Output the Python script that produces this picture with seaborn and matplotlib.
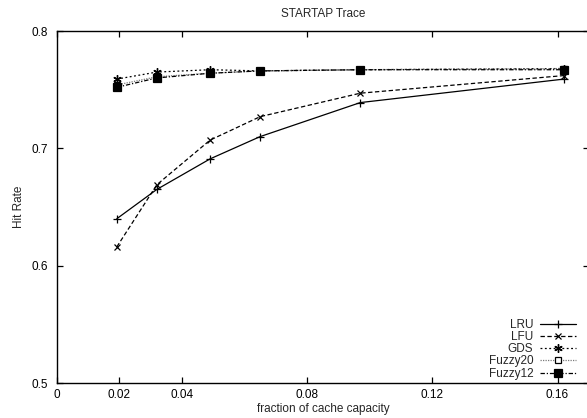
import matplotlib
matplotlib.use("Agg")
import matplotlib.pyplot as plt
import seaborn as sns
import pandas as pd

# Cache-size fractions and hit rates per replacement policy
capacity = [0.0192, 0.032, 0.049, 0.065, 0.097, 0.162]
lru = [0.640, 0.665, 0.691, 0.710, 0.739, 0.759]
lfu = [0.616, 0.669, 0.707, 0.727, 0.747, 0.762]
gds = [0.759, 0.765, 0.767, 0.766, 0.767, 0.768]
fuzzy20 = [0.754, 0.761, 0.764, 0.766, 0.767, 0.768]
fuzzy12 = [0.752, 0.760, 0.764, 0.766, 0.767, 0.767]

x_ticks = [0, 0.02, 0.04, 0.08, 0.12, 0.16]
x_tick_labels = ["0", "0.02", "0.04", "0.08", "0.12", "0.16"]
y_ticks = [0.5, 0.6, 0.7, 0.8]
y_tick_labels = ["0.5", "0.6", "0.7", "0.8"]

series = {
    "LRU": lru,
    "LFU": lfu,
    "GDS": gds,
    "Fuzzy20": fuzzy20,
    "Fuzzy12": fuzzy12,
}

styles = {
    "LRU": dict(color="black", linestyle="-", marker="+", markersize=6, mew=0.9),
    "LFU": dict(color="black", linestyle=(0, (3.5, 2)), marker="x", markersize=5, mew=0.9),
    "GDS": dict(color="black", linestyle=(0, (1.5, 2)), marker=(6, 2, 0), markersize=6, mew=1.0),
    "Fuzzy20": dict(color="#7a7a7a", linestyle=(0, (1, 1)), marker="s", markersize=5,
                    mfc="white", mec="black", mew=0.9),
    "Fuzzy12": dict(color="black", linestyle=(0, (3.5, 1.5, 1, 1.5)), marker="s",
                    markersize=6, mfc="black", mec="black"),
}

sns.set_theme(style="ticks")
plt.rcParams["font.family"] = ["Liberation Sans", "DejaVu Sans"]
plt.rcParams["font.size"] = 8.5

fig = plt.figure(figsize=(5.87, 4.18), dpi=100)
ax = fig.add_axes([56.7 / 587, 35 / 418, (589 - 56.7) / 587, (383 - 31) / 418])

for name, values in series.items():
    df = pd.DataFrame({"capacity": capacity, "hit": values})
    st = styles[name]
    sns.lineplot(data=df, x="capacity", y="hit", ax=ax, label=name,
                 color=st["color"], linewidth=0.9, estimator=None, sort=False)
    line = ax.lines[-1]
    line.set_linestyle(st["linestyle"])
    line.set_marker(st["marker"])
    line.set_markersize(st["markersize"])
    line.set_markeredgewidth(st.get("mew", 0.9))
    line.set_markerfacecolor(st.get("mfc", "black"))
    line.set_markeredgecolor(st.get("mec", "black"))

ax.set_xlim(0, (589 - 56.7) / 3130)
ax.set_ylim(0.5, 0.8)
ax.set_xticks(x_ticks)
ax.set_xticklabels(x_tick_labels)
ax.set_yticks(y_ticks)
ax.set_yticklabels(y_tick_labels)
ax.tick_params(direction="in", length=4, width=0.9, top=True, right=True,
               labelsize=8.5, colors="black")
ax.tick_params(axis="x", pad=4)
ax.tick_params(axis="y", pad=6)

for side in ["left", "bottom", "top", "right"]:
    ax.spines[side].set_linewidth(1.0)
    ax.spines[side].set_color("black")

ax.set_xlabel("fraction of cache capacity", fontsize=8.5, labelpad=2)
ax.set_ylabel("Hit Rate", fontsize=8.5, labelpad=5)
ax.set_title("STARTAP Trace", fontsize=8.5, pad=10)

leg = ax.legend(loc="lower right", markerfirst=False, frameon=False,
                fontsize=8.5, handlelength=3.0, handletextpad=0.6,
                labelspacing=0.02, borderaxespad=0.0, borderpad=0.2,
                bbox_to_anchor=(578 / 587, 36 / 418), bbox_transform=fig.transFigure)
for t in leg.get_texts():
    t.set_ha("right")

fig.savefig("out.png", dpi=100)
